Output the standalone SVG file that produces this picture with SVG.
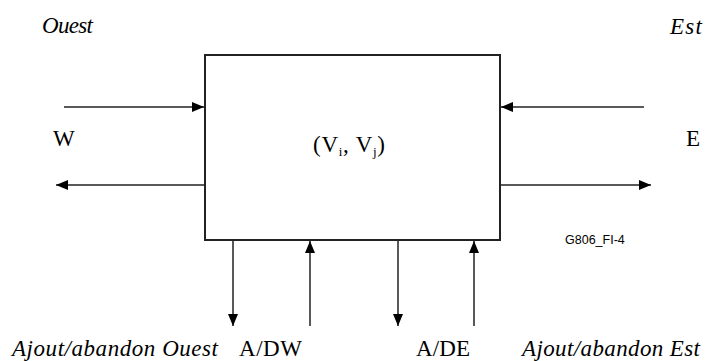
<svg xmlns="http://www.w3.org/2000/svg" width="708" height="361" viewBox="0 0 708 361">
<style>
text{font-family:"Liberation Serif","Times New Roman",serif;fill:#000}
.it{font-style:italic;font-size:23px}
.rm{font-size:23px}
.ln{stroke:#222;stroke-width:1.5;fill:none}
</style>
<defs>
<marker id="ah" viewBox="0 0 12 10" refX="12" refY="5" markerWidth="12" markerHeight="10" markerUnits="userSpaceOnUse" orient="auto">
<path d="M0,0 L12,5 L0,10 Z" fill="#000"/>
</marker>
</defs>
<rect width="708" height="361" fill="#fff"/>
<g id="block">
<rect x="205" y="55" width="295" height="185" fill="#fff" stroke="#222" stroke-width="2"/>
<text x="313" y="152" class="rm" textLength="72">(V<tspan font-size="13" dy="4">i</tspan><tspan dy="-4">, V</tspan><tspan font-size="13" dy="4">j</tspan><tspan dy="-4">)</tspan></text>
</g>
<g id="connectors">
<line class="ln" x1="64" y1="107" x2="204" y2="107" marker-end="url(#ah)"/>
<line class="ln" x1="205" y1="185" x2="56" y2="185" marker-end="url(#ah)"/>
<line class="ln" x1="644" y1="107" x2="501" y2="107" marker-end="url(#ah)"/>
<line class="ln" x1="500" y1="185" x2="651" y2="185" marker-end="url(#ah)"/>
<line class="ln" x1="233" y1="241" x2="233" y2="326" marker-end="url(#ah)"/>
<line class="ln" x1="310" y1="326" x2="310" y2="241" marker-end="url(#ah)"/>
<line class="ln" x1="398" y1="241" x2="398" y2="326" marker-end="url(#ah)"/>
<line class="ln" x1="474" y1="326" x2="474" y2="241" marker-end="url(#ah)"/>
</g>
<g id="labels">
<text x="42" y="33" class="it" textLength="51">Ouest</text>
<text x="670" y="34" class="it" textLength="32">Est</text>
<text x="53" y="146" class="rm">W</text>
<text x="686" y="146" class="rm">E</text>
<text x="565" y="244" style="font-family:'Liberation Sans',Arial,sans-serif;font-size:12.5px">G806_FI-4</text>
<text x="12" y="356" class="it" textLength="206">Ajout/abandon Ouest</text>
<text x="239" y="356" class="rm" textLength="63">A/DW</text>
<text x="416" y="356" class="rm" textLength="54">A/DE</text>
<text x="522" y="356" class="it" textLength="178">Ajout/abandon Est</text>
</g>
</svg>
